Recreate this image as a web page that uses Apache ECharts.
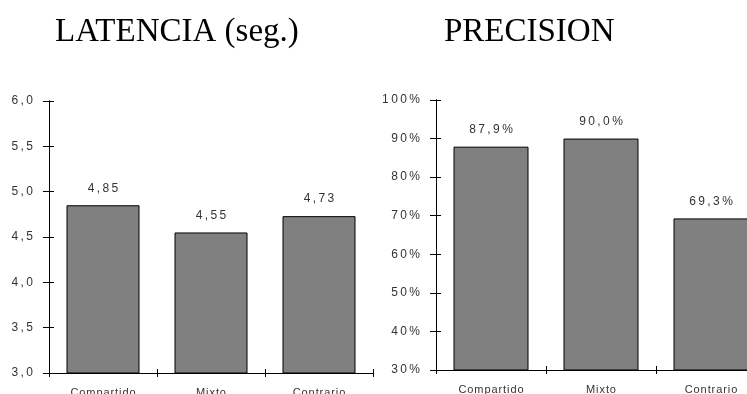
<!DOCTYPE html>
<html>
<head>
<meta charset="utf-8">
<style>
  html, body { margin: 0; padding: 0; background: #fff; }
  #chart { width: 747px; height: 394px; }
</style>
<script src="https://cdn.jsdelivr.net/npm/echarts@6/dist/echarts.min.js"></script>
</head>
<body>
<div id="chart"></div>
<script>
// Data
const categories = ['Compartido', 'Mixto', 'Contrario'];
const latencia = [4.85, 4.55, 4.73];
const precision = [87.9, 90.0, 69.3];
const latenciaAxis = { min: 3, max: 6, interval: 0.5 };
const precisionAxis = { min: 30, max: 100, interval: 10 };
const titles = ['LATENCIA (seg.)', 'PRECISION'];

// Labels are drawn letter-spaced
const WIDE = '\u2009';
const NARROW = '\u200A';
const spread = (s, sep) => Array.from(s).join(sep);
const comma = (v, d) => v.toFixed(d).replace('.', ',');

const numFont = { fontFamily: '"Liberation Sans", Arial, sans-serif', fontSize: 12, color: '#333' };
const catFont = { fontFamily: '"Liberation Sans", Arial, sans-serif', fontSize: 11, color: '#333' };

const black = { color: '#000', width: 1 };

// Plot rectangles; each is used twice: once for the axes with labels and
// outward ticks, once more for the inward half of the crossing ticks.
const rects = [
  { left: 49, top: 101, width: 324, height: 272, outerBoundsMode: 'none' },
  { left: 436, top: 100, width: 330, height: 270, outerBoundsMode: 'none' }
];

function xAxis(grid, inner) {
  return {
    type: 'category', data: categories, gridIndex: grid,
    axisLine: { show: true, lineStyle: black },
    axisTick: { show: true, inside: inner, length: 4, lineStyle: black },
    axisLabel: inner ? { show: false }
      : Object.assign({ margin: 14, formatter: v => spread(v, NARROW) }, catFont)
  };
}

function yAxis(grid, range, fmt, inner) {
  return Object.assign({
    type: 'value', gridIndex: grid,
    splitLine: { show: false },
    axisLine: { show: true, lineStyle: black },
    axisTick: { show: true, inside: inner, length: inner ? 5 : 6, lineStyle: black },
    axisLabel: inner ? { show: false }
      : Object.assign({ margin: 16, formatter: fmt }, numFont)
  }, range);
}

const fmtLat = v => spread(comma(v, 1), WIDE);
const fmtPct = v => spread(v + '%', WIDE);

const barStyle = { color: '#808080', borderColor: '#000', borderWidth: 1 };

const option = {
  animation: false,
  backgroundColor: '#fff',
  grid: [rects[0], rects[1], rects[0], rects[1]],
  xAxis: [xAxis(0, false), xAxis(1, false), xAxis(2, true), xAxis(3, true)],
  yAxis: [
    yAxis(0, latenciaAxis, fmtLat, false),
    yAxis(1, precisionAxis, fmtPct, false),
    yAxis(2, latenciaAxis, fmtLat, true),
    yAxis(3, precisionAxis, fmtPct, true)
  ],
  series: [
    {
      type: 'bar', xAxisIndex: 0, yAxisIndex: 0, data: latencia, barWidth: 73,
      itemStyle: barStyle,
      label: Object.assign({ show: true, position: 'top', distance: 11,
        formatter: p => spread(comma(p.value, 2), WIDE) }, numFont)
    },
    {
      type: 'bar', xAxisIndex: 1, yAxisIndex: 1, data: precision, barWidth: 75,
      itemStyle: barStyle,
      label: Object.assign({ show: true, position: 'top', distance: 11,
        formatter: p => spread(comma(p.value, 1) + '%', WIDE) }, numFont)
    }
  ],
  graphic: [
    { type: 'text', left: 55, top: 16,
      style: { text: titles[0], font: '33px "Liberation Serif", "Times New Roman", serif', fill: '#000' } },
    { type: 'text', left: 444, top: 16,
      style: { text: titles[1], font: '33px "Liberation Serif", "Times New Roman", serif', fill: '#000' } }
  ]
};

const chart = echarts.init(document.getElementById('chart'), null, { renderer: 'canvas' });
chart.setOption(option);
</script>
</body>
</html>
